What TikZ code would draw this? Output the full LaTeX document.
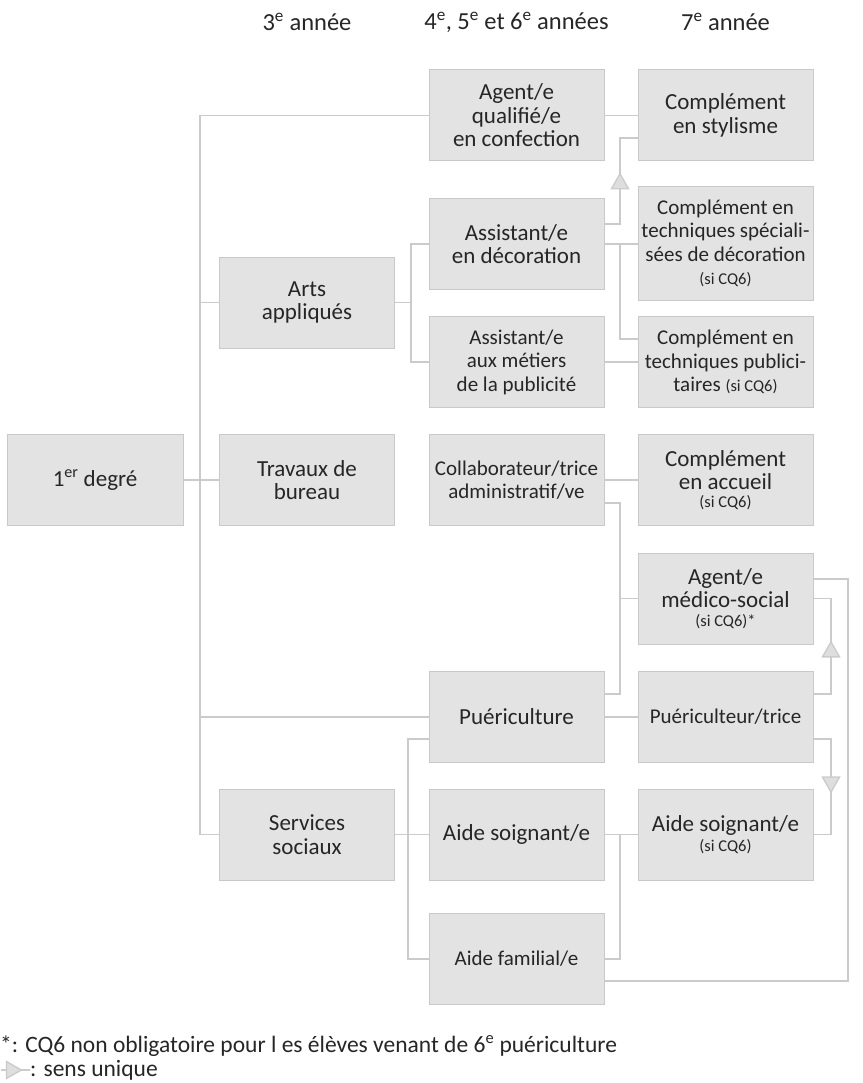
\documentclass[tikz,border=0pt]{standalone}
\usepackage{fontspec}
\setmainfont{Carlito}
\usepackage{tikz}
\usetikzlibrary{arrows.meta}
\usetikzlibrary{decorations.markings}
\definecolor{boxFill}{HTML}{E3E3E3}
\definecolor{boxLine}{HTML}{C9C9C9}
\definecolor{lnGray}{HTML}{CBCBCB}
\definecolor{tipFill}{HTML}{DEDEDE}
\definecolor{txt}{HTML}{262626}
\tikzset{bx/.style={draw=boxLine, fill=boxFill, line width=1pt, minimum width=175pt,
  minimum height=91pt, align=center, inner sep=2pt, text=txt,
  font=\fontsize{23}{23.5}\selectfont}}
\tikzset{nb/.style={bx, font=\fontsize{21}{23.5}\selectfont}}
\tikzset{hd/.style={text=txt, font=\fontsize{24.5}{24}\selectfont}}
\tikzset{ln/.style={draw, lnGray, line width=1.3pt}}
\tikzset{ow/.style={postaction={decorate}, decoration={markings,
  mark=at position #1 with {\arrow{Triangle[width=19pt,length=17pt,fill=tipFill]}}}}}
\newcommand{\siCQ}[1]{{\fontsize{16.5}{17}\selectfont #1}}

\begin{document}
\begin{tikzpicture}[x=1pt,y=-1pt]
        \useasboundingbox (0,0) rectangle (862,1083);
        %% headings
        \node (h3) at (307,22) [hd] {3\textsuperscript{e} année};
        \node (h456) at (516.5,22) [hd] {4\textsuperscript{e}, 5\textsuperscript{e} et 6\textsuperscript{e} années};
        \node (h7) at (725.5,22) [hd] {7\textsuperscript{e} année};
        %% boxes
        \node (deg) at (95,480) [bx, minimum width=176pt] {1\textsuperscript{er} degré};
        \node (arts) at (307,302.5) [bx] {Arts\\appliqués};
        \node (bur) at (307,480) [bx] {Travaux de\\bureau};
        \node (soc) at (307,834.5) [bx] {Services\\sociaux};
        \node (agq) at (516.5,115.5) [bx] {Agent/e\\qualifié/e\\en confection};
        \node (deco) at (516.5,244) [bx] {Assistant/e\\en décoration};
        \node (pub) at (516.5,362) [nb] {Assistant/e\\aux métiers\\de la publicité};
        \node (col) at (516.5,480) [nb] {Collaborateur/trice\\administratif/ve};
        \node (pue) at (516.5,717) [bx] {Puériculture};
        \node (aso) at (516.5,834.5) [bx] {Aide soignant/e};
        \node (afa) at (516.5,959) [nb] {Aide familial/e};
        \node (sty) at (725.5,115.5) [bx] {Complément\\en stylisme};
        \node (tsd) at (725.5,243.5) [nb, minimum height=113pt] {Complément en\\techniques spéciali-\\sées de décoration\\\siCQ{(si CQ6)}};
        \node (tpu) at (725.5,362) [nb] {Complément en\\techniques publici-\\taires \siCQ{(si CQ6)}};
        \node (acc) at (725.5,480) [bx] {Complément\\en accueil\\[-6pt]\siCQ{(si CQ6)}};
        \node (mso) at (725.5,598.5) [bx] {Agent/e\\médico-social\\[-5pt]\siCQ{(si CQ6)*}};
        \node (ptr) at (725.5,717) [nb] {Puériculteur/trice};
        \node (as6) at (725.5,834.5) [bx] {Aide soignant/e\\[-4pt]\siCQ{(si CQ6)}};
        %% junction columns
        \coordinate (trunk) at (200,0);
        \coordinate (aj) at (411,0);
        \coordinate (pj) at (408,0);
        \coordinate (mj) at (620,0);
        \coordinate (rj) at (831,0);
        \coordinate (oj) at (848,0);
        %% trunk
        \draw [ln] (deg) -- (bur);
        \draw [ln] (agq.west) -| (soc.west -| trunk) -- (soc.west);
        \draw [ln] (arts.west -| trunk) -- (arts.west);
        \draw [ln] (pue.west -| trunk) -- (pue.west);
        %% arts appliques
        \draw [ln] (arts.east) -- (arts.east -| aj);
        \draw [ln] (deco.west) -| (pub.west -| aj) -- (pub.west);
        \draw [ln] (agq) -- (sty);
        \draw [ln] ([yshift=20pt]deco.east) -| ([yshift=-22.5pt]sty.west -| mj) -- ([yshift=-22.5pt]sty.west);
        \draw [ln, ow=0.6] ([yshift=20pt]deco.east -| mj) -- ([yshift=-22.5pt]sty.west -| mj);
        \draw [ln] (deco.east) -- (deco.east -| tsd.west);
        \draw [ln] (deco.east -| mj) |- ([yshift=23pt]tpu.west);
        \draw [ln] (pub) -- (tpu);
        %% travaux de bureau
        \draw [ln] (col) -- (acc);
        \draw [ln] ([yshift=-23pt]col.east) -| ([yshift=23pt]pue.east -| mj) -- ([yshift=23pt]pue.east);
        \draw [ln] (mso.west -| mj) -- (mso.west);
        \draw [ln] (pue) -- (ptr);
        %% puericulture
        \draw [ln] ([yshift=23pt]ptr.east) -| (mso.east -| rj) -- (mso.east);
        \draw [ln, ow=0.56] ([yshift=23pt]ptr.east -| rj) -- (mso.east -| rj);
        \draw [ln] ([yshift=-22pt]ptr.east) -| (as6.east -| rj) -- (as6.east);
        \draw [ln, ow=0.57] ([yshift=-22pt]ptr.east -| rj) -- (as6.east -| rj);
        \draw [ln] ([yshift=19.5pt]mso.east) -| ([yshift=-22pt]afa.east -| oj) -- ([yshift=-22pt]afa.east);
        %% services sociaux
        \draw [ln] (soc) -- (aso);
        \draw [ln] (aso) -- (as6);
        \draw [ln] (aso.east -| mj) |- (afa.east);
        \draw [ln] ([yshift=-22pt]pue.west) -| (afa.west -| pj) -- (afa.west);
        %% legend
        \node (note) at (0,1046) [hd, font=\fontsize{23.5}{24}\selectfont, anchor=west, inner sep=0pt] {*: CQ6 non obligatoire pour l es élèves venant de 6\textsuperscript{e} puériculture};
        \coordinate (ka) at (1,1070);
        \coordinate (kb) at (30,1070);
        \draw [ln, ow=0.75] (ka) -- (kb);
        \node (key) at (kb) [hd, font=\fontsize{23.5}{24}\selectfont, anchor=west, inner sep=0pt] {: sens unique};
\end{tikzpicture}
\end{document}
